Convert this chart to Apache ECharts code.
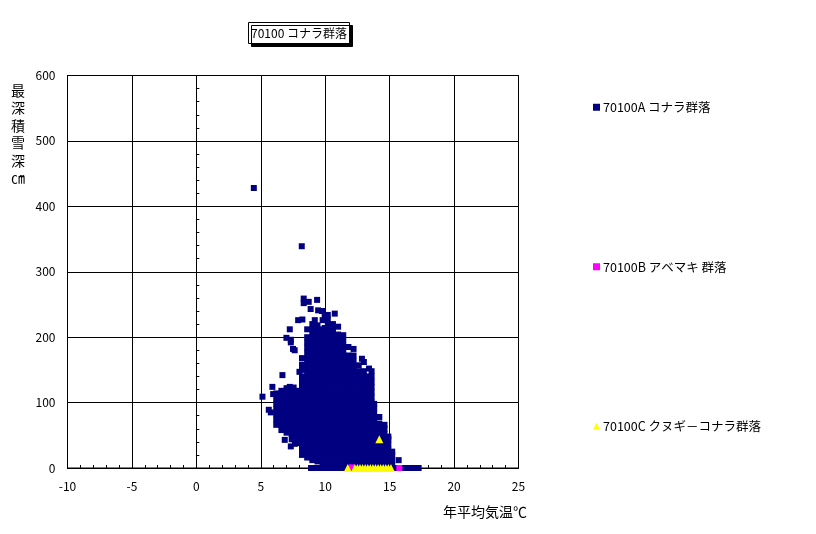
<!DOCTYPE html>
<html><head><meta charset="utf-8">
<style>html,body{margin:0;padding:0;background:#fff}#c{width:816px;height:534px}</style>
<script src="https://cdn.jsdelivr.net/npm/echarts@6/dist/echarts.min.js"></script>
</head><body><div id="c"></div>
<script>
const chartTitle = '70100 コナラ群落';
const seriesNames = ['70100A コナラ群落', '70100B アベマキ 群落', '70100C クヌギ－コナラ群落'];
const xTitle = '年平均気温℃';
const yTitle = ['最', '深', '積', '雪', '深', '㎝'];

// Dense body of group A, read column by column: temperature, then the depths seen at it.
const tempsA = [6.2, 6.6, 7.0, 7.4, 7.8, 8.2, 8.6, 9.0, 9.4, 9.8, 10.2, 10.6, 11.0, 11.4, 11.8, 12.2, 12.6, 13.0, 13.4, 13.6, 13.8, 14.2, 14.6, 14.9, 15.2];
const depthsA = [
  [66,74,82,90,98,106,114],
  [58,66,74,82,90,98,106,114,118],
  [54,62,70,78,86,94,102,110,118,122],
  [44,52,60,68,76,84,92,100,108,116,122],
  [38,46,54,62,70,78,86,94,102,110,118],
  [20,28,36,44,52,60,68,76,84,92,100,108,116,124,132,140,150,158,168],
  [16,24,32,40,48,56,64,72,80,88,96,104,112,120,128,136,144,152,160,168,176,184,192,200,212],
  [12,20,28,36,44,52,60,68,76,84,92,100,108,116,124,132,140,148,156,164,172,180,188,196,204,212,220],
  [10,18,26,34,42,50,58,66,74,82,90,98,106,114,122,130,138,146,154,162,170,178,186,194,202,210,218],
  [4,12,20,28,36,44,52,60,68,76,84,92,100,108,116,124,132,140,148,156,164,172,180,188,196,204,212,226],
  [4,12,20,28,36,44,52,60,68,76,84,92,100,108,116,124,132,140,148,156,164,172,180,188,196,204,212,220,234],
  [4,12,20,28,36,44,52,60,68,76,84,92,100,108,116,124,132,140,148,156,164,172,180,188,196,204,212,220],
  [4,12,20,28,36,44,52,60,68,76,84,92,100,108,116,124,132,140,148,156,164,172,180,188,196,204,216],
  [4,12,20,28,36,44,52,60,68,76,84,92,100,108,116,124,132,140,148,156,164,172,180,188,196,203],
  [4,12,20,28,36,44,52,60,68,76,84,92,100,108,116,124,132,140,148,156,164,172,185],
  [4,12,20,28,36,44,52,60,68,76,84,92,100,108,116,124,132,140,148,156,164,172,182],
  [4,12,20,28,36,44,52,60,68,76,84,92,100,108,116,124,132,140,148,157],
  [4,12,20,28,36,44,52,60,68,76,84,92,100,108,116,124,132,140,148,162],
  [4,12,20,28,36,44,52,60,68,76,84,92,100,108,116,124,132,140,152],
  [4,12,20,28,36,44,52,60,68,76,84,92,100,108,116,124,132,140,148],
  [4,12,20,28,36,44,52,60,68,76,84,92,98],
  [4,12,20,28,36,44,52,60,68,78],
  [4,12,20,28,36,44,52,60,66],
  [4,12,20,28,36,44,48],
  [4,12,20,25]
];
// Scattered outer points of group A
const outliersA = [[4.46,428],[8.18,339],[8.33,259],[8.33,252],[8.72,254],[9.37,257],[8.87,243],[9.45,241],[9.75,240],[10.74,236],[8.23,227],[7.9,226],[9.19,226],[9.96,231],[10.2,227],[7.25,212],[6.99,199],[7.33,196],[7.33,192],[7.5,182],[7.63,180],[6.68,142],[8.0,147],[5.9,124],[5.96,113],[5.13,109],[5.62,89],[5.78,85],[6.86,43],[7.33,33],[7.64,37],[7.25,124],[7.55,123],[9.96,214],[12.85,167],[15.7,12]];
// Zero-depth row of group A
const zeroTempsA = [8.9,9.3,9.7,10.1,10.5,10.9,11.3,11.7,12.1,12.5,12.9,13.3,13.7,14.1,14.5,14.9,15.3,15.7,16.1,16.5,16.9,17.25];
const pointsB = [[12.05,1],[15.75,0]];
const pointsC = [[11.75,0],[12.3,0],[12.5,0],[12.7,0],[12.9,0],[13.1,0],[13.3,0],[13.5,0],[13.7,0],[13.9,0],[14.1,0],[14.3,0],[14.5,0],[14.7,0],[14.9,0],[15.1,0],[14.2,44]];

const pointsA = outliersA.concat(zeroTempsA.map(t => [t, 0]));
tempsA.forEach((t, i) => depthsA[i].forEach(d => pointsA.push([t, d])));

const black = '#000';
const font = '"Noto Sans CJK JP"';
const chart = echarts.init(document.getElementById('c'));
chart.setOption({
  animation: false,
  backgroundColor: '#fff',
  textStyle: { fontFamily: font, color: black },
  title: [
    { text: chartTitle, left: 248, top: 22, padding: [5, 3, 5, 3], backgroundColor: '#fff', borderColor: black, borderWidth: 1,
      shadowColor: black, shadowOffsetX: 3, shadowOffsetY: 3, shadowBlur: 0,
      textStyle: { fontFamily: font, fontSize: 12, fontWeight: 'normal', color: black } },
    { text: yTitle.join('\n'), left: 11, top: 82,
      padding: 0, textStyle: { fontFamily: font, fontSize: 14, lineHeight: 17.4, fontWeight: 'normal', color: black } },
    { text: xTitle, left: 443, top: 505, padding: 0,
      textStyle: { fontFamily: font, fontSize: 14, fontWeight: 'normal', color: black } }
  ],
  legend: {
    orient: 'vertical', left: 588, top: 96, itemWidth: 7, itemHeight: 7, itemGap: 147,
    data: seriesNames,
    textStyle: { fontFamily: font, fontSize: 12.5, color: black, padding: [0, 0, 0, -2] }
  },
  grid: { left: 67.5, top: 75.5, width: 451, height: 392.5, show: true, borderColor: black, borderWidth: 1, backgroundColor: 'transparent' },
  xAxis: {
    type: 'value', min: -10, max: 25, interval: 5,
    axisLine: { onZero: false, lineStyle: { color: black, width: 1 } },
    axisTick: { show: true, inside: true, length: 3, lineStyle: { color: black } },
    minorTick: { show: true, splitNumber: 5, length: 3, lineStyle: { color: black } },
    axisLabel: { color: black, fontFamily: font, fontSize: 12, margin: 12, showMinLabel: true, showMaxLabel: true, hideOverlap: false },
    splitLine: { show: true, lineStyle: { color: black, width: 1 } }
  },
  yAxis: [
    { type: 'value', min: 0, max: 600, interval: 100, position: 'left',
      axisLine: { show: true, onZero: false, lineStyle: { color: black } },
      axisTick: { show: false },
      axisLabel: { color: black, fontFamily: font, fontSize: 12, margin: 12 },
      splitLine: { show: true, lineStyle: { color: black, width: 1 } } },
    { type: 'value', min: 0, max: 600, interval: 100, position: 'right',
      axisLine: { show: true, onZero: true, lineStyle: { color: black } },
      axisTick: { show: true, length: 3, lineStyle: { color: black } },
      minorTick: { show: true, splitNumber: 5, length: 3, lineStyle: { color: black } },
      axisLabel: { show: false },
      splitLine: { show: false } }
  ],
  series: [
    { name: seriesNames[0], type: 'scatter', data: pointsA, symbol: 'rect', symbolSize: 6, itemStyle: { color: '#000080', opacity: 1 } },
    { name: seriesNames[1], type: 'scatter', data: pointsB, symbol: 'rect', symbolSize: 6, itemStyle: { color: '#ff00ff', opacity: 1 } },
    { name: seriesNames[2], type: 'scatter', data: pointsC, symbol: 'triangle', symbolSize: 8, itemStyle: { color: '#ffff00', opacity: 1 } }
  ]
});
</script></body></html>
